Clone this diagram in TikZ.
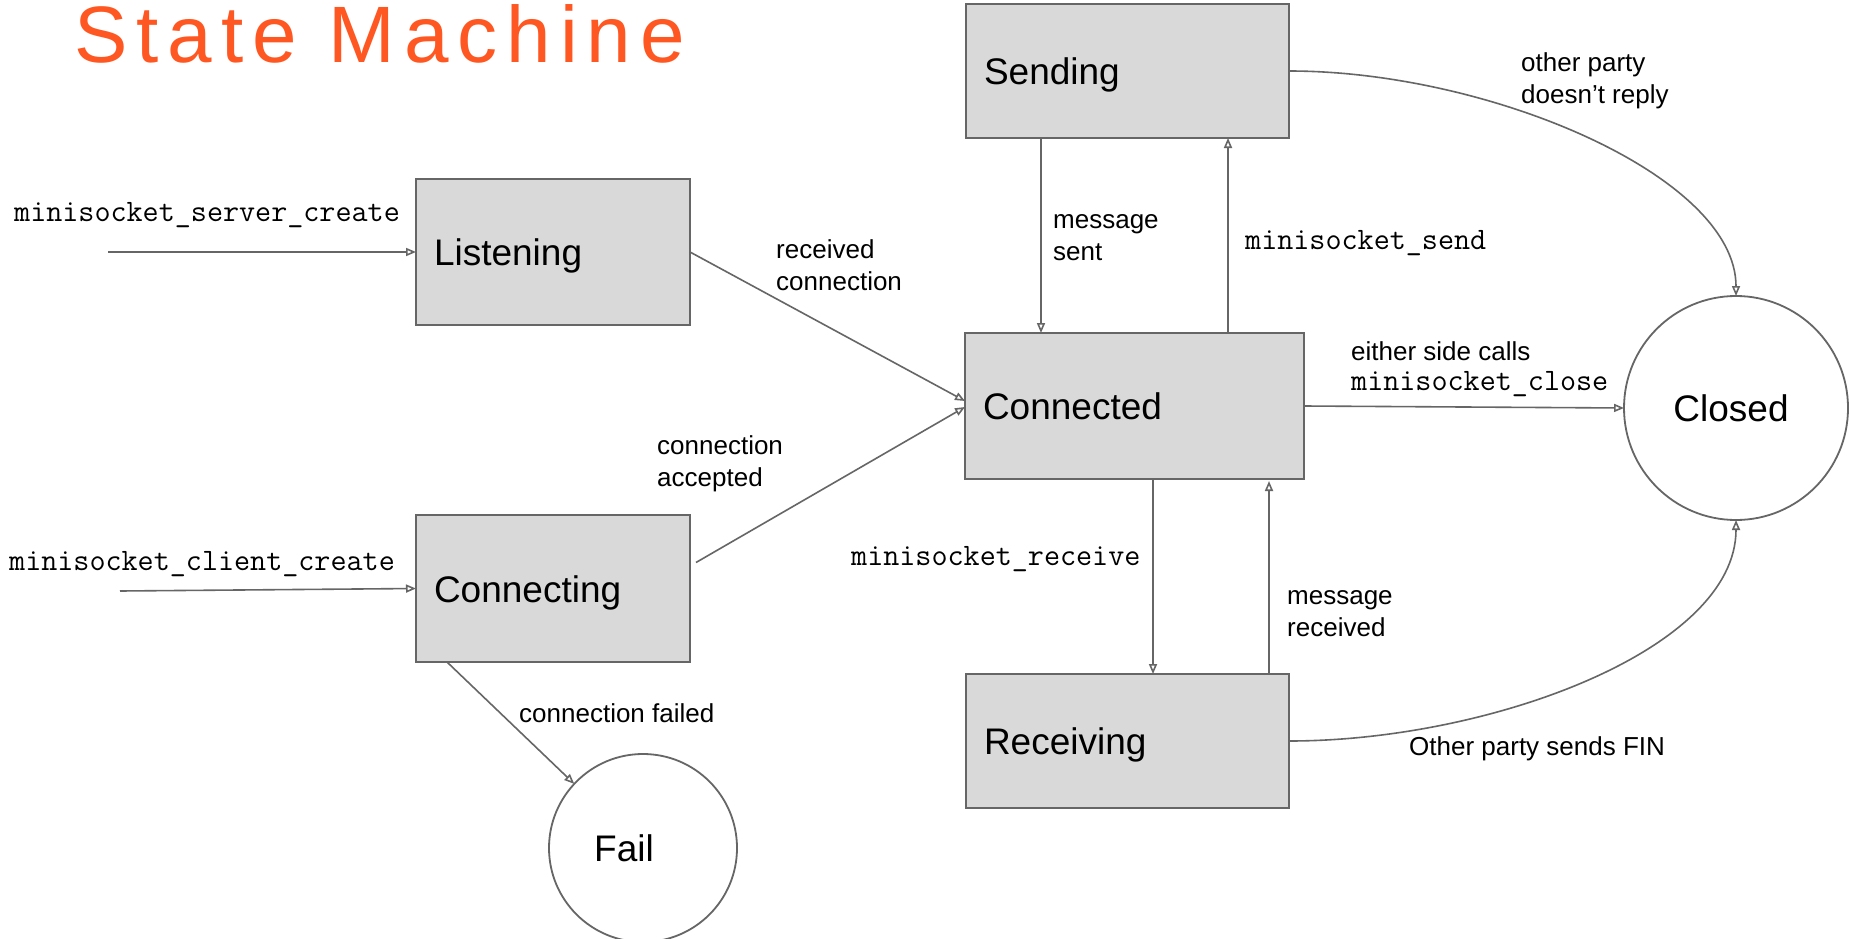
\documentclass[tikz,border=0pt]{standalone}
\usepackage{fontspec}
\setmainfont{Liberation Sans}
\newfontfamily\titlef[LetterSpace=11.3]{Liberation Sans}
\usetikzlibrary{arrows.meta,calc}
\definecolor{linegray}{HTML}{666666}
\definecolor{boxfill}{HTML}{D9D9D9}
\definecolor{titleorange}{HTML}{FF5722}
\begin{document}
\begin{tikzpicture}[x=1pt,y=-1pt,
  statebox/.style={draw=linegray, line width=2pt, fill=boxfill, rectangle, align=left,
    inner xsep=18pt, inner ysep=0pt, outer sep=0pt, text height=27pt, text depth=0pt,
    font=\fontsize{37}{44}\selectfont},
  endstate/.style={draw=linegray, line width=1.8pt, circle, inner sep=0pt, outer sep=0pt,
    font=\fontsize{37}{44}\selectfont},
  arr/.style={draw=linegray, line width=1.6pt, -{Triangle[open,length=10pt,width=8pt]}},
  lab/.style={inner sep=0pt, anchor=west, align=left, font=\fontsize{26}{32}\selectfont},
  mlab/.style={inner sep=0pt, anchor=west, font=\ttfamily\fontsize{31.2}{36}\selectfont},
  titlestyle/.style={inner sep=0pt, anchor=base west, text=titleorange, font=\titlef\fontsize{80}{90}\selectfont}
]
\fill[white] (0,0) rectangle (1849,939);
\useasboundingbox (0,0) rectangle (1849,939);

% title
\node[titlestyle] (title) at (74,62.5) {State Machine};

% states
\node[statebox, minimum width=274pt, minimum height=146pt, text width=238pt] (listening) at (553,252) {Listening};
\node[statebox, minimum width=274pt, minimum height=147pt, text width=238pt] (connecting) at (553,588.5) {Connecting};
\node[statebox, minimum width=339pt, minimum height=146pt, text width=303pt] (connected) at (1134.5,406) {Connected};
\node[statebox, minimum width=323pt, minimum height=134pt, text width=287pt] (sending) at (1127.5,71) {Sending};
\node[statebox, minimum width=323pt, minimum height=134pt, text width=287pt] (receiving) at (1127.5,741) {Receiving};
\node[endstate, minimum size=224pt] (closed) at (1736,408) {\kern-10pt Closed};
\node[endstate, minimum size=188pt] (fail) at (643,848) {\kern-38pt Fail};

% entry points
\coordinate (srvin) at (108,252);
\coordinate (cliin) at (120,591);

% connectors
\draw[arr] (srvin) -- (listening.west);
\draw[arr] (cliin) -- (connecting.west);
\draw[arr] (listening.east) -- ($(connected.west)+(0,-5)$);
\draw[arr] ($(connecting.east)+(6,-26)$) -- ($(connected.west)+(0,1)$);
\draw[arr] ([xshift=-106pt]connecting.south) -- (fail.137);
\draw[arr] ([xshift=-86.5pt]sending.south) -- ([xshift=-93.5pt]connected.north);
\draw[arr] ([xshift=93.5pt]connected.north) -- ([xshift=100.5pt]sending.south);
\draw[arr] ([xshift=18.5pt]connected.south) -- ([xshift=25.5pt]receiving.north);
\draw[arr] ([xshift=141.5pt]receiving.north) -- ([xshift=134.5pt,yshift=-2pt]connected.south);
\draw[arr] (connected.east) -- (closed.west);
\draw[arr] (sending.east) .. controls +(200,0) and +(0,-120) .. (closed.north);
\draw[arr] (receiving.east) .. controls +(200,0) and +(0,130) .. (closed.south);

% labels
\node[mlab] (lsrv) at (14,215) {minisocket\_server\_create};
\node[mlab] (lcli) at (9,564) {minisocket\_client\_create};
\node[lab] (lrecv) at (776,265) {received\\connection};
\node[lab] (lacc) at (657,464) {connection\\accepted};
\node[lab] (lfail) at (519,713) {connection failed};
\node[lab] (lsent) at (1053,238) {message\\sent};
\node[mlab] (lsend) at (1245,243) {minisocket\_send};
\node[mlab] (lreceive) at (851,559) {minisocket\_receive};
\node[lab] (lmrecv) at (1287,614) {message\\received};
\node[lab] (leither) at (1351,351) {either side calls};
\node[mlab] (lclose) at (1351,384) {minisocket\_close};
\node[lab] (lother) at (1521,81) {other party\\doesn’t reply};
\node[lab] (lfin) at (1409,749) {Other party sends FIN};
\end{tikzpicture}
\end{document}
